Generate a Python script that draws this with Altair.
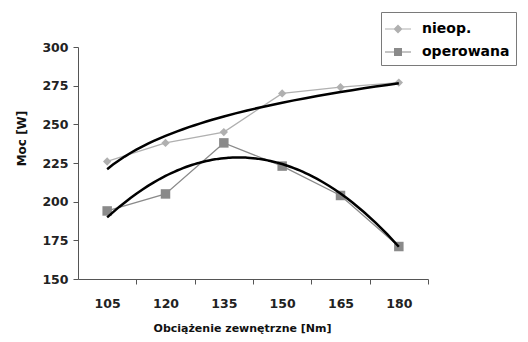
import altair as alt
import pandas as pd

categories = [105, 120, 135, 150, 165, 180]
nieop = [226, 238, 245, 270, 274, 277]
operowana = [194, 205, 238, 223, 204, 171]
series_names = ["nieop.", "operowana"]
series_colors = ["#b0b0b0", "#8a8a8a"]
series_shapes = ["diamond", "square"]
marker_sizes = [70, 90]
trend_methods = ["log", "poly"]
y_ticks = [150, 175, 200, 225, 250, 275, 300]

rows = []
for i, c in enumerate(categories):
    rows.append({"idx": i + 1, "kat": c, "seria": series_names[0], "moc": nieop[i]})
    rows.append({"idx": i + 1, "kat": c, "seria": series_names[1], "moc": operowana[i]})
df = pd.DataFrame(rows)

W, H = 350, 232
band = W / len(categories)
FONT = "DejaVu Sans"

x_enc = alt.X(
    "idx:Q",
    scale=alt.Scale(domain=[0.5, 6.5], nice=False, zero=False),
    axis=alt.Axis(
        values=[1, 2, 3, 4, 5, 6],
        labelExpr="format(90 + 15 * datum.value, 'd')",
        tickOffset=band / 2,
        labelOffset=-band / 2,
        labelFlush=False,
        labelOverlap=False,
        tickSize=5,
        labelPadding=13,
        title="Obciążenie zewnętrzne [Nm]",
        titleX=164,
        titleY=49,
        titleBaseline="middle",
        titleAlign="center",
        titleFontSize=11,
    ),
)
y_enc = alt.Y(
    "moc:Q",
    scale=alt.Scale(domain=[150, 300], nice=False, zero=False),
    axis=alt.Axis(
        values=y_ticks,
        labelOverlap=False,
        tickSize=5,
        labelPadding=5,
        title="Moc [W]",
        titleAngle=270,
        titleX=-57,
        titleY=91,
        titleAlign="center",
        titleBaseline="middle",
        titleFontSize=12,
    ),
)

# legend symbols: a thin horizontal bar with the marker on it (all sub-paths clockwise)
sym_nieop = "M-1.3,-0.06L1.3,-0.06L1.3,0.06L-1.3,0.06ZM0,-0.45L0.45,0L0,0.45L-0.45,0Z"
sym_oper = "M-1.3,-0.06L1.3,-0.06L1.3,0.06L-1.3,0.06ZM-0.4,-0.4L0.4,-0.4L0.4,0.4L-0.4,0.4Z"

legend = alt.Legend(
    title=None,
    orient="none",
    legendX=303,
    legendY=-35,
    direction="vertical",
    padding=6,
    strokeColor="#7a7a7a",
    fillColor="white",
    symbolSize=400,
    symbolOpacity=1,
    labelOffset=13,
    rowPadding=4,
    labelFont=FONT,
    labelFontWeight="bold",
    labelFontSize=14,
    labelColor="black",
)

base = alt.Chart(df)

line_layers = []
marker_layers = []
trend_layers = []
for name, col, shp, sz, meth in zip(series_names, series_colors, series_shapes, marker_sizes, trend_methods):
    sub = base.transform_filter(alt.datum.seria == name)
    line_layers.append(sub.mark_line(strokeWidth=1.3, color=col).encode(x=x_enc, y=y_enc))
    marker_layers.append(
        sub.mark_point(filled=True, opacity=1, shape=shp, size=sz, color=col).encode(x=x_enc, y=y_enc)
    )
    if meth == "poly":
        reg = sub.transform_regression("idx", "moc", method="poly", order=2, extent=[1, 6])
    else:
        reg = sub.transform_regression("idx", "moc", method=meth, extent=[1, 6])
    trend_layers.append(reg.mark_line(color="black", strokeWidth=2.5).encode(x=x_enc, y=y_enc))

legend_layer = base.mark_point(filled=True, opacity=0).encode(
    x=x_enc,
    y=y_enc,
    color=alt.Color("seria:N", scale=alt.Scale(domain=series_names, range=series_colors), legend=legend),
    shape=alt.Shape("seria:N", scale=alt.Scale(domain=series_names, range=[sym_nieop, sym_oper]), legend=legend),
)

chart = (
    alt.layer(*line_layers, *marker_layers, *trend_layers, legend_layer)
    .properties(
        width=W,
        height=H,
        autosize=alt.AutoSizeParams(type="none"),
        padding={"left": 70, "top": 39, "right": 90, "bottom": 55},
    )
    .configure_view(stroke=None)
    .configure_axis(
        labelFont=FONT,
        labelFontWeight="bold",
        labelFontSize=12.5,
        labelColor="#222222",
        titleFont=FONT,
        titleFontWeight="bold",
        titleColor="#111111",
        domainColor="#555555",
        tickColor="#555555",
        grid=False,
    )
)

chart.save("out.html", embed_options={"renderer": "svg", "actions": False})
